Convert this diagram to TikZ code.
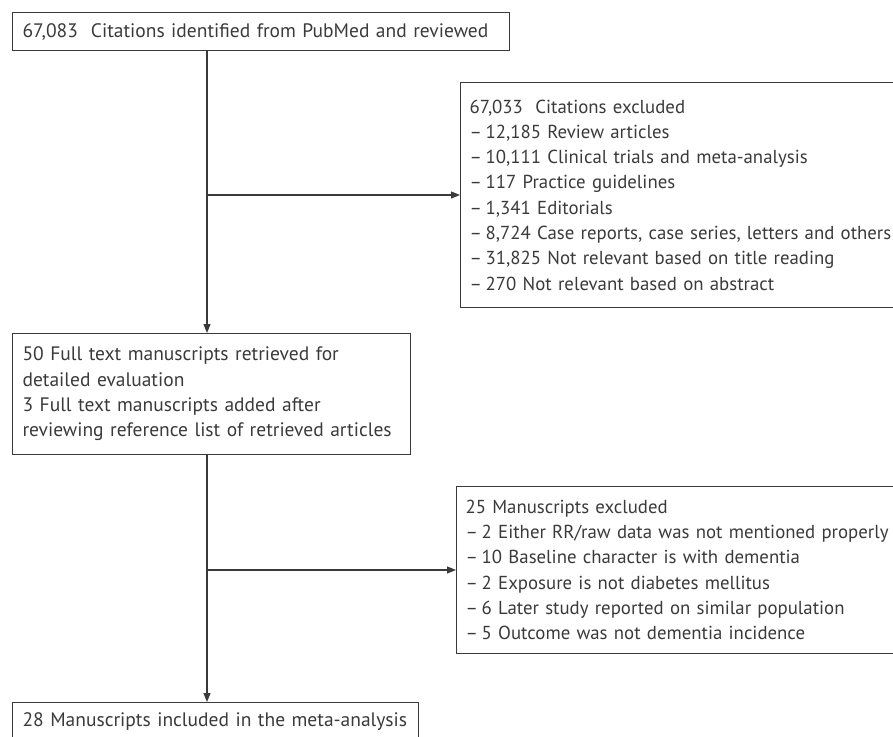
\documentclass[tikz,border=0pt]{standalone}
\usepackage{fontspec}
\setmainfont{PT Sans}
\usetikzlibrary{positioning,arrows.meta}
\definecolor{ink}{HTML}{3A3A3A}
\newcommand{\itm}{–\hspace{0.2em}}

\begin{document}
\begin{tikzpicture}[x=1pt,y=-1pt,
    box/.style={draw=ink,line width=1.1pt,anchor=north west,align=left,
      inner xsep=10pt,inner ysep=0pt,text=ink,
      font=\fontsize{19.5}{25.3}\selectfont},
    side/.style={box,inner xsep=9pt,font=\fontsize{18.8}{25.3}\selectfont},
    arr/.style={draw=ink,line width=1.1pt,-{Triangle[length=9pt,width=7pt]}}]
  \clip (0,0) rectangle (893,736);

  \node[box,minimum width=497pt,minimum height=38pt,text width=477pt] (cit) at (12,12)
    {67,083\ \ Citations identified from PubMed and reviewed};
  \node[box,minimum width=398pt,minimum height=121pt,text width=378pt] (full) at (12,333)
    {50 Full text manuscripts retrieved for\\detailed evaluation\\3 Full text manuscripts added after\\reviewing reference list of retrieved articles};
  \node[box,minimum width=406pt,minimum height=38pt,text width=386pt] (incl) at (12,702)
    {28 Manuscripts included in the meta-analysis};

  \node[side,minimum width=480pt,minimum height=225pt,text width=462pt] (cexcl) at (460,82)
    {67,033\ \ Citations excluded\\
     \itm 12,185 Review articles\\
     \itm 10,111 Clinical trials and meta-analysis\\
     \itm 117 Practice guidelines\\
     \itm 1,341 Editorials\\
     \itm 8,724 Case reports, case series, letters and others\\
     \itm 31,825 Not relevant based on title reading\\
     \itm 270 Not relevant based on abstract};
  \node[side,minimum width=480pt,minimum height=167pt,text width=462pt] (mexcl) at (456,486)
    {25 Manuscripts excluded\\
     \itm 2 Either RR/raw data was not mentioned properly\\
     \itm 10 Baseline character is with dementia\\
     \itm 2 Exposure is not diabetes mellitus\\
     \itm 6 Later study reported on similar population\\
     \itm 5 Outcome was not dementia incidence};

  \coordinate (j1) at (207,195);
  \coordinate (j2) at (207,570);

  \draw[arr] (cit.south -| j1) -- (full.north -| j1);
  \draw[arr] (j1) -- (j1 -| cexcl.west);
  \draw[arr] (full.south -| j2) -- (incl.north -| j2);
  \draw[arr] (j2) -- (j2 -| mexcl.west);
\end{tikzpicture}
\end{document}
